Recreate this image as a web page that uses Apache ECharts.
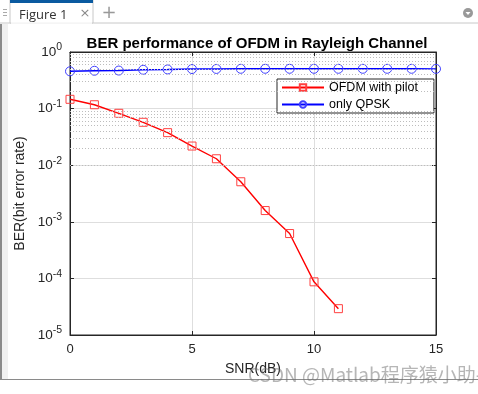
<!DOCTYPE html>
<html>
<head>
<meta charset="utf-8">
<script src="https://cdn.jsdelivr.net/npm/echarts@6/dist/echarts.min.js"></script>
<style>
html,body{margin:0;padding:0;background:#fff;}
#c{width:478px;height:394px;}
</style>
</head>
<body>
<div id="c"></div>
<script>
// ---- data ----
const snrTicks = [0, 5, 10, 15];
const snrPilot = [0, 1, 2, 3, 4, 5, 6, 7, 8, 9, 10, 11];
const berPilot = [0.146, 0.117, 0.0826, 0.0573, 0.0376, 0.0218, 0.0130, 0.0051, 0.00158, 0.00062, 0.000087, 0.0000292];
const snrQpsk = [0, 1, 2, 3, 4, 5, 6, 7, 8, 9, 10, 11, 12, 13, 14, 15];
const berQpsk = [0.456, 0.466, 0.470, 0.485, 0.492, 0.500, 0.502, 0.505, 0.505, 0.505, 0.505, 0.505, 0.505, 0.505, 0.505, 0.503];
const yDecades = [1e-5, 1e-4, 1e-3, 1e-2, 1e-1, 1];
const seriesNames = ['OFDM with pilot', 'only QPSK'];
const titleText = 'BER performance of OFDM in Rayleigh Channel';
const xName = 'SNR(dB)';
const yName = 'BER(bit error rate)';

// minor grid positions (MATLAB style log minor grid)
const yMinor = [];
for (let k = -5; k <= -1; k++) for (let m = 2; m <= 9; m++) yMinor.push(+(m * Math.pow(10, k)).toPrecision(3));

const FONT = '"Liberation Sans", Arial, Helvetica, sans-serif';
const AX = '#262626';

const chart = echarts.init(document.getElementById('c'), null, {renderer: 'canvas'});

const minorStyle = {color: '#bdbdbd', width: 1, type: [1, 2]};

chart.setOption({
  animation: false,
  backgroundColor: '#ffffff',
  title: {
    text: titleText, left: 252, top: 31, textAlign: 'center',
    textStyle: {fontFamily: FONT, fontSize: 15, fontWeight: 'bold', color: '#000'}
  },
  grid: {left: 70, top: 52, width: 366, height: 283, show: true, borderColor: AX, borderWidth: 1, containLabel: false, outerBoundsMode: 'none'},
  legend: {
    data: seriesNames, orient: 'vertical', left: 277, top: 79,
    padding: [1, 16, 1, 4], itemGap: 2, itemWidth: 42, itemHeight: 8,
    backgroundColor: '#fff', borderColor: AX, borderWidth: 1, borderRadius: 0,
    textStyle: {fontFamily: FONT, fontSize: 12.5, color: '#000', lineHeight: 15}
  },
  xAxis: [{
    type: 'value', min: 0, max: 15, interval: 5, position: 'bottom',
    name: xName, nameLocation: 'middle', nameGap: 27,
    nameTextStyle: {fontFamily: FONT, fontSize: 14, color: AX},
    axisLine: {show: true, onZero: false, lineStyle: {color: AX}},
    axisTick: {show: true, inside: true, length: 4, lineStyle: {color: AX}},
    axisLabel: {fontFamily: FONT, fontSize: 13, color: AX, margin: 8},
    splitLine: {show: true, lineStyle: {color: '#dedede', width: 1}}
  }, {
    type: 'value', min: 0, max: 15, interval: 5, position: 'top',
    axisLine: {show: true, onZero: false, lineStyle: {color: AX}},
    axisTick: {show: true, inside: true, length: 4, lineStyle: {color: AX}},
    axisLabel: {show: false}, splitLine: {show: false}
  }],
  yAxis: [{
    type: 'log', logBase: 10, min: 1e-5, max: 1, interval: 1, position: 'left',
    name: yName, nameLocation: 'middle', nameGap: 43,
    nameTextStyle: {fontFamily: FONT, fontSize: 14, color: AX},
    axisLine: {show: true, onZero: false, lineStyle: {color: AX}},
    axisTick: {show: true, inside: true, length: 4, lineStyle: {color: AX}},
    axisLabel: {
      margin: 8,
      formatter: function (v) { return '{b|10}{s|' + Math.round(Math.log10(v)) + '}'; },
      rich: {
        b: {fontFamily: FONT, fontSize: 13.5, color: AX},
        s: {fontFamily: FONT, fontSize: 10.5, color: AX, padding: [0, 0, 9, 0]}
      }
    },
    splitLine: {show: true, lineStyle: {color: '#dedede', width: 1}}
  }, {
    type: 'log', logBase: 10, min: 1e-5, max: 1, interval: 1, position: 'right',
    axisLine: {show: true, onZero: false, lineStyle: {color: AX}},
    axisTick: {show: true, inside: true, length: 4, lineStyle: {color: AX}},
    axisLabel: {show: false}, splitLine: {show: false}
  }],
  series: [{
    name: 'minor-grid', type: 'line', data: [], z: 1, silent: true,
    markLine: {
      silent: true, symbol: ['none', 'none'], label: {show: false}, animation: false,
      lineStyle: minorStyle, emphasis: {disabled: true},
      data: yMinor.map(v => ({yAxis: v}))
    }
  }, {
    name: seriesNames[0], type: 'line', z: 3,
    data: snrPilot.map((x, i) => [x, berPilot[i]]),
    symbol: 'rect', symbolSize: 8, showSymbol: true,
    lineStyle: {color: '#ff0000', width: 1.4},
    itemStyle: {color: 'rgba(255,255,255,0)', borderColor: '#ff4040', borderWidth: 1},
    emphasis: {disabled: true}
  }, {
    name: seriesNames[1], type: 'line', z: 3,
    data: snrQpsk.map((x, i) => [x, berQpsk[i]]),
    symbol: 'circle', symbolSize: 9, showSymbol: true,
    lineStyle: {color: '#0000ff', width: 1.4},
    itemStyle: {color: 'rgba(255,255,255,0)', borderColor: '#4040ff', borderWidth: 1},
    emphasis: {disabled: true}
  }],
  graphic: [
    // window chrome: tab strip
    {type: 'rect', left: 0, top: 0, shape: {width: 478, height: 23}, style: {fill: '#ffffff'}, silent: true},
    {type: 'line', shape: {x1: 0, y1: 23, x2: 478, y2: 23}, style: {stroke: '#c8c8c8', lineWidth: 1}, silent: true},
    {type: 'rect', shape: {x: 10, y: 0, width: 83, height: 23}, style: {fill: '#ffffff', stroke: '#c8c8c8', lineWidth: 1}, silent: true},
    {type: 'rect', shape: {x: 10, y: 0, width: 83, height: 3}, style: {fill: '#0a5aa0'}, silent: true},
    {type: 'line', shape: {x1: 11, y1: 23, x2: 92, y2: 23}, style: {stroke: '#ffffff', lineWidth: 1.5}, silent: true},
    {type: 'text', x: 19, y: 15, style: {text: 'Figure 1', font: '13px "Open Sans", "DejaVu Sans", sans-serif', fill: '#333', verticalAlign: 'middle'}, silent: true},
    {type: 'text', x: 85, y: 14, style: {text: '×', font: '13px "DejaVu Sans", sans-serif', fill: '#888', align: 'center', verticalAlign: 'middle'}, silent: true},
    {type: 'text', x: 109, y: 13, style: {text: '+', font: '18px "DejaVu Sans", sans-serif', fill: '#999', align: 'center', verticalAlign: 'middle'}, silent: true},
    {type: 'circle', shape: {cx: 468, cy: 13, r: 5}, style: {fill: '#999'}, silent: true},
    {type: 'polygon', shape: {points: [[465.5, 12], [470.5, 12], [468, 15]]}, style: {fill: '#fff'}, silent: true},
    // grip
    {type: 'rect', shape: {x: 3, y: 9, width: 4, height: 1}, style: {fill: '#aaa'}, silent: true},
    {type: 'rect', shape: {x: 3, y: 12, width: 4, height: 1}, style: {fill: '#aaa'}, silent: true},
    {type: 'rect', shape: {x: 3, y: 15, width: 4, height: 1}, style: {fill: '#aaa'}, silent: true},
    // left border strip
    {type: 'rect', shape: {x: 0, y: 24, width: 8, height: 356}, style: {fill: '#f0f0f0'}, silent: true},
    {type: 'rect', shape: {x: 0, y: 24, width: 2, height: 356}, style: {fill: '#8a8a8a'}, silent: true},
    // bottom border
    {type: 'line', shape: {x1: 0, y1: 379.5, x2: 478, y2: 379.5}, style: {stroke: '#8a8a8a', lineWidth: 1}, silent: true},
    // watermark
    {type: 'text', x: 248, y: 375, z: 100, style: {text: 'CSDN @Matlab程序猿小助手', font: '19px "Noto Sans CJK SC", sans-serif', fill: 'rgba(110,110,110,0.5)', align: 'left', verticalAlign: 'middle'}, silent: true}
  ]
});
</script>
</body>
</html>
